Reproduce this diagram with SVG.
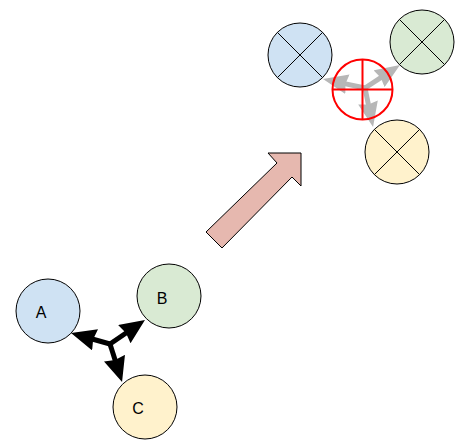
<svg xmlns="http://www.w3.org/2000/svg" width="464" height="448" viewBox="0 0 464 448">
<style>
.n{stroke:#000;stroke-width:1}
.x{stroke:#000;stroke-width:1;fill:none}
.t{font-family:"Liberation Sans",Arial,sans-serif;font-size:16px;fill:#000;text-anchor:middle;dominant-baseline:central}
.blk{stroke:#000;stroke-width:5;fill:none}
.gry{stroke:#B7B7B7;stroke-width:5;fill:none}
</style>
<defs>
<marker id="hb" markerUnits="userSpaceOnUse" markerWidth="25" markerHeight="22" viewBox="0 0 25 22" refX="3" refY="11" orient="auto"><path d="M0,0 L25,11 L0,22 L2,11 Z" fill="#000"/></marker>
<marker id="hg" markerUnits="userSpaceOnUse" markerWidth="25" markerHeight="20" viewBox="0 0 25 20" refX="3" refY="10" orient="auto"><path d="M0,0 L25,10 L0,20 L2,10 Z" fill="#B7B7B7"/></marker>
</defs>
<rect width="464" height="448" fill="#fff"/>
<g id="bigArrow"><polygon points="206,232 277,163 268,153 301,153 301,186 292,177 222,248" fill="#E6B8AF" stroke="#000" stroke-width="1"/></g>
<g id="nodeA"><circle cx="48" cy="311" r="32" fill="#CFE2F3" class="n"/><text x="41" y="312" class="t">A</text></g>
<g id="nodeB"><circle cx="169" cy="296" r="32" fill="#D9EAD3" class="n"/><text x="162" y="298" class="t">B</text></g>
<g id="nodeC"><circle cx="145" cy="407" r="32" fill="#FFF2CC" class="n"/><text x="138" y="408" class="t">C</text></g>
<g id="nodeBlueX"><circle cx="300" cy="55" r="32" fill="#CFE2F3" class="n"/><path d="M277.4,32.4 L322.6,77.6 M322.6,32.4 L277.4,77.6" class="x"/></g>
<g id="nodeGreenX"><circle cx="422" cy="42" r="32" fill="#D9EAD3" class="n"/><path d="M399.4,19.4 L444.6,64.6 M444.6,19.4 L399.4,64.6" class="x"/></g>
<g id="nodeYellowX"><circle cx="397" cy="152" r="32" fill="#FFF2CC" class="n"/><path d="M374.4,129.4 L419.6,174.6 M419.6,129.4 L374.4,174.6" class="x"/></g>
<g id="connectors">
<path d="M110,344 L92.2,339" class="blk" marker-end="url(#hb)"/>
<path d="M110,344 L126.8,332.5" class="blk" marker-end="url(#hb)"/>
<path d="M110,344 L115.4,361" class="blk" marker-end="url(#hb)"/>
<path d="M365,88 L344.5,83.6" class="gry" marker-end="url(#hg)"/>
<path d="M365,88 L381.6,77.1" class="gry" marker-end="url(#hg)"/>
<path d="M365,88 L368.6,105.4" class="gry" marker-end="url(#hg)"/>
</g>
<g id="target"><circle cx="362.5" cy="89.5" r="30" fill="none" stroke="#FF0000" stroke-width="2"/><path d="M362.5,59.5 L362.5,119.5 M332.5,89.5 L392.5,89.5" stroke="#FF0000" stroke-width="2" fill="none"/></g>
</svg>
